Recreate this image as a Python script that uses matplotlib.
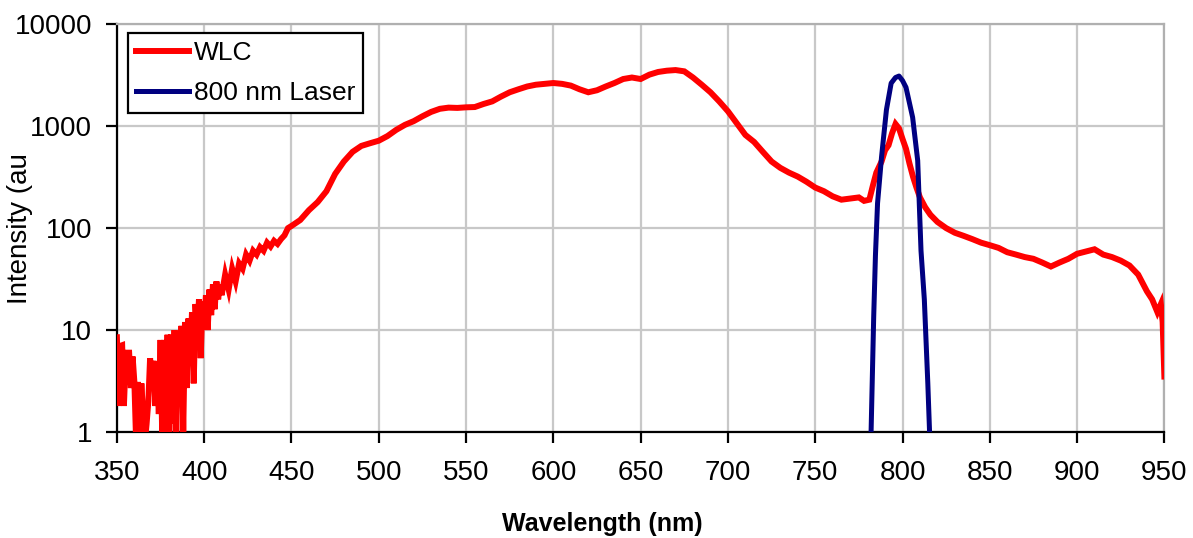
import matplotlib.pyplot as plt
from matplotlib.ticker import FixedLocator, NullLocator

plt.rcParams['font.family'] = ['Liberation Sans', 'DejaVu Sans']

# WLC spectrum
wlc_nm = [
    350, 351, 352, 353, 354, 355, 356, 357, 358, 359, 360, 361, 362, 363, 364,
    365, 366, 367, 368, 369, 370, 371, 372, 373, 374, 375, 376, 377, 378, 379,
    380, 381, 382, 383, 384, 385, 386, 387, 388, 389, 390, 391, 392, 393, 394,
    395, 396, 397, 398, 399, 400, 401, 402, 403, 404, 405, 406, 407, 408, 409,
    410, 412, 414, 416, 418, 420, 422, 424, 426, 428, 430, 432, 434, 436, 438,
    440, 442, 444, 446, 448, 450, 455, 460, 465, 470, 475, 480, 485, 490, 495,
    500, 505, 510, 515, 520, 525, 530, 535, 540, 545, 550, 555, 560, 565, 570,
    575, 580, 585, 590, 595, 600, 605, 610, 615, 620, 625, 630, 635, 640, 645,
    650, 655, 660, 665, 670, 675, 680, 685, 690, 695, 700, 705, 710, 715, 720,
    725, 730, 735, 740, 745, 750, 755, 760, 765, 770, 775, 778, 781, 783, 785,
    788, 790, 792, 794, 796, 798, 800, 802, 804, 806, 808, 810, 813, 816, 820,
    825, 830, 835, 840, 845, 850, 855, 860, 865, 870, 875, 880, 885, 890, 895,
    900, 905, 910, 915, 920, 925, 930, 935, 940, 943, 946, 948, 949, 950,
]
wlc_val = [
    8.5, 1.8, 7, 7.1, 1.8, 5, 6, 6, 2.7, 5.5, 3.1, 0.8, 3.1, 0.8, 3,
    1.5, 0.8, 1.2, 2, 5.3, 3, 5, 1.8, 4.5, 1.5, 8, 0.8, 8, 0.9, 9,
    0.7, 9, 1.2, 10, 0.8, 9, 2, 11, 1, 12, 2.7, 13, 5, 15, 3,
    18, 9, 20, 5.3, 19, 12, 22, 10, 25, 14, 28, 16, 30, 20, 28,
    22, 35, 25, 40, 30, 45, 40, 55, 48, 60, 55, 65, 60, 72, 66,
    75, 70, 78, 85, 100, 105, 120, 150, 180, 230, 340, 450, 560, 640, 680,
    720, 800, 920, 1030, 1120, 1250, 1380, 1480, 1520, 1510, 1530, 1540, 1650, 1750, 1950,
    2150, 2300, 2450, 2550, 2600, 2650, 2600, 2500, 2300, 2150, 2250, 2450, 2650, 2900, 3000,
    2900, 3200, 3400, 3500, 3550, 3450, 3000, 2550, 2150, 1750, 1400, 1070, 820, 700, 560,
    450, 390, 350, 320, 285, 250, 230, 205, 190, 195, 200, 185, 190, 260, 350,
    450, 580, 650, 850, 1050, 950, 750, 600, 430, 320, 250, 200, 160, 135, 115,
    100, 90, 84, 78, 72, 68, 64, 58, 55, 52, 50, 46, 42, 46, 50,
    56, 59, 62, 55, 52, 48, 43, 35, 24, 20, 15, 18, 12, 3.5,
]

# 800 nm laser line
laser_nm = [780, 782, 783.5, 784.5, 785.7, 788, 790.8, 793.5, 796, 798, 800,
            802, 805.8, 808.7, 810.6, 812.5, 814.5, 815.5, 817]
laser_val = [0.5, 1, 13.5, 54, 175, 500, 1450, 2640, 3000, 3100, 2800,
             2400, 1220, 460, 60, 20, 3, 1, 0.5]

x_ticks = list(range(350, 951, 50))
y_ticks = [1, 10, 100, 1000, 10000]
y_labels = ['1', '10', '100', '1000', '10000']

fig = plt.figure(figsize=(11.93, 5.38), dpi=100)
ax = fig.add_axes([0.098, 0.197, 0.878, 0.758])

ax.plot(wlc_nm, wlc_val, color='#ff0000', lw=4.3, label='WLC',
        solid_joinstyle='miter', zorder=3)
ax.plot(laser_nm, laser_val, color='#000080', lw=3.6, label='800 nm Laser',
        zorder=4)

ax.set_yscale('log')
ax.set_xlim(350, 950)
ax.set_ylim(1, 10000)
ax.xaxis.set_major_locator(FixedLocator(x_ticks))
ax.yaxis.set_major_locator(FixedLocator(y_ticks))
ax.yaxis.set_minor_locator(NullLocator())
ax.set_yticklabels(y_labels)

ax.grid(True, color='#c8c8c8', lw=1.6, zorder=0)
ax.set_axisbelow(True)
for side in ['left', 'bottom']:
    ax.spines[side].set_color('black')
    ax.spines[side].set_linewidth(1.6)
for side in ['top', 'right']:
    ax.spines[side].set_color('#b0b0b0')
    ax.spines[side].set_linewidth(1.6)

ax.tick_params(axis='both', direction='out', length=8, width=1.6,
               labelsize=20, colors='black')
ax.tick_params(axis='x', pad=12)
ax.tick_params(axis='y', pad=10)

ax.set_xlabel('Wavelength (nm)', fontsize=18, fontweight='bold')
ax.xaxis.set_label_coords(0.463, -0.196)
ax.set_ylabel('Intensity (au', fontsize=20)
ax.yaxis.set_label_coords(-0.080, 0.5)

leg = ax.legend(loc='upper left', bbox_to_anchor=(0.0105, 0.978), fontsize=19,
                fancybox=False, framealpha=1, edgecolor='black',
                handlelength=2.0, handletextpad=0.2, borderpad=0.3,
                labelspacing=0.6, borderaxespad=0)
leg.get_frame().set_linewidth(1.6)

fig.savefig('out.png', dpi=100)
